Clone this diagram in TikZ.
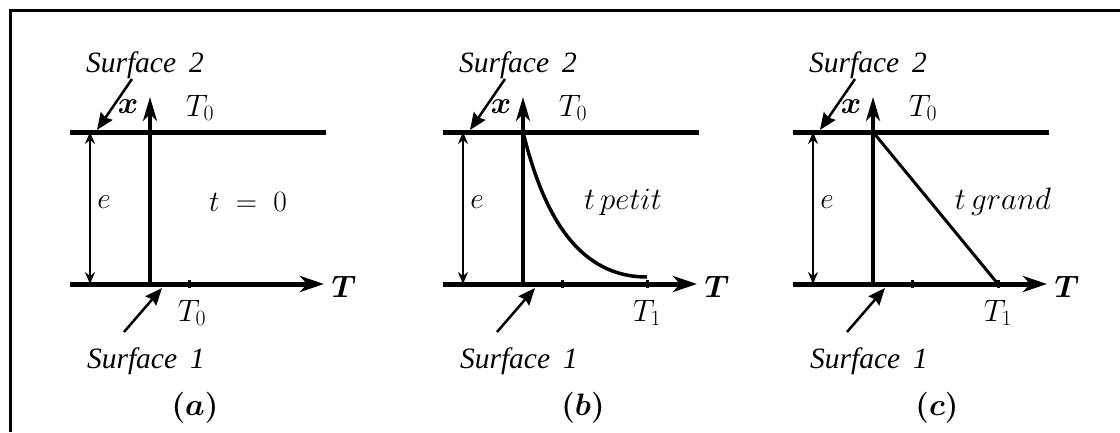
\RequirePackage{fix-cm}
\documentclass[tikz,border=0pt]{standalone}
\usepackage{fontspec}
\setmainfont{Liberation Serif}
\usepackage{amsmath,bm}
\usetikzlibrary{arrows.meta}
\newcommand{\commonparts}{%
  \coordinate (tl) at (70,132); \coordinate (tr) at (326,132);
  \coordinate (bl) at (70,284); \coordinate (br) at (324,284);
  \coordinate (o) at (150,284); \coordinate (xt) at (150,97);
  \coordinate (et) at (90,132); \coordinate (eb) at (90,284);
  \coordinate (mk1) at (189,280); \coordinate (mk2) at (189,288);
  \coordinate (s2a) at (132,79); \coordinate (s2b) at (97,130);
  \coordinate (s1a) at (124,332); \coordinate (s1b) at (162,288);
  \draw[wall] (tl) -- (tr);
  \draw[axis] (bl) -- (br);
  \draw[vaxis] (o) -- (xt);
  \draw[dim] (et) -- (eb);
  \draw[tickmark] (mk1) -- (mk2);
  \draw[pointer] (s2a) -- (s2b);
  \draw[pointer] (s1a) -- (s1b);
  \node[lbl] (s2) at (145,65) {\itshape Surface\hspace{13pt}2};
  \node[lbl] (s1) at (146,361) {\itshape Surface\hspace{13pt}1};
  \node[lbl,big] (xl) at (128,107) {$\bm{x}$};
  \node[lbl,big] (T0top) at (200,108) {$T_0$};
  \node[lbl,big] (Tl) at (344,287) {$\bm{T}$};
  \node[lbl] (el) at (104,202) {$e$};
}
\begin{document}
\begin{tikzpicture}[x=1pt,y=-1pt, font=\fontsize{29.5}{35}\selectfont,
  wall/.style={line width=5pt},
  axis/.style={line width=5pt,-{Stealth[length=24pt,width=16pt,inset=7pt]}},
  vaxis/.style={line width=4pt,-{Stealth[length=24pt,width=14pt,inset=7pt]}},
  dim/.style={line width=2pt,{Stealth[length=12pt,width=10pt,inset=4pt]}-{Stealth[length=12pt,width=10pt,inset=4pt]}},
  pointer/.style={line width=2.5pt,-{Stealth[length=17pt,width=14pt,inset=2pt]}},
  tickmark/.style={line width=3pt},
  profile/.style={line width=3.5pt},
  big/.style={font=\fontsize{31}{36}\selectfont},
  lbl/.style={inner sep=0pt, anchor=center}]
\useasboundingbox (0,0) rectangle (1120,432);
\coordinate (f1) at (1120,10); \coordinate (f2) at (10,10); \coordinate (f3) at (10,432);
\draw[line width=3pt] (f1) -- (f2) -- (f3);
% panel (a)
\begin{scope}[name prefix=a-]
  \commonparts
  \node[lbl] (tlab) at (248,202) {$t \;=\; 0$};
  \node[lbl,big] (T0b) at (192,313) {$T_0$};
  \node[lbl,big] (cap) at (195,408) {$\bm{(a)}$};
\end{scope}
% panel (b)
\begin{scope}[xshift=373pt, name prefix=b-]
  \commonparts
  \coordinate (c0) at (150,132); \coordinate (c1) at (274,277);
  \draw[profile] (c0) .. controls (168,205) and (200,277) .. (c1);
  \coordinate (k1) at (274,280); \coordinate (k2) at (274,288);
  \draw[tickmark] (k1) -- (k2);
  \node[lbl,big] (tlab) at (250,202) {$t\,petit$};
  \node[lbl,big] (T1) at (274,313) {$T_1$};
  \node[lbl,big] (cap) at (210,408) {$\bm{(b)}$};
\end{scope}
% panel (c)
\begin{scope}[xshift=723pt, name prefix=c-]
  \commonparts
  \coordinate (c0) at (150,132); \coordinate (c1) at (275,284);
  \draw[line width=3pt] (c0) -- (c1);
  \coordinate (k1) at (275,280); \coordinate (k2) at (275,288);
  \draw[tickmark] (k1) -- (k2);
  \node[lbl,big] (tlab) at (280,202) {$t\,grand$};
  \node[lbl,big] (T1) at (275,313) {$T_1$};
  \node[lbl,big] (cap) at (214,408) {$\bm{(c)}$};
\end{scope}
\end{tikzpicture}
\end{document}
